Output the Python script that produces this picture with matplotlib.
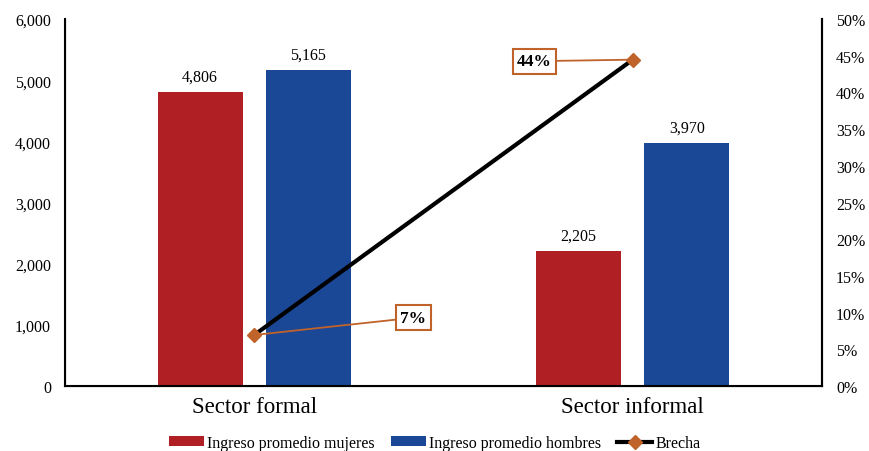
import numpy as np
import matplotlib
matplotlib.use('Agg')
import matplotlib.pyplot as plt
from matplotlib.ticker import FuncFormatter, PercentFormatter

categories = ['Sector formal', 'Sector informal']
mujeres = [4806, 2205]
hombres = [5165, 3970]
brecha = [0.0695, 0.4446]
brecha_labels = ['7%', '44%']

plt.rcParams['font.family'] = ['Liberation Serif', 'DejaVu Serif']

red = '#B01F24'
blue = '#1A4796'
orange = '#C0632A'

fig = plt.figure(figsize=(8.69, 4.52), dpi=100)
ax = fig.add_axes([65/869, 1-387/452, 757/869, 367/452])
x = np.arange(len(categories))
w = 0.225
b1 = ax.bar(x - 0.143, mujeres, w, color=red, label='Ingreso promedio mujeres')
b2 = ax.bar(x + 0.143, hombres, w, color=blue, label='Ingreso promedio hombres')
for bars in (b1, b2):
    for r in bars:
        ax.text(r.get_x() + r.get_width()/2, r.get_height() + 120, f'{int(r.get_height()):,}',
                ha='center', va='bottom', fontsize=11.5)

ax.set_xlim(-0.5, 1.5)
ax.set_ylim(0, 6000)
ax.set_yticks(range(0, 6001, 1000))
ax.yaxis.set_major_formatter(FuncFormatter(lambda v, p: f'{int(v):,}'))
ax.set_xticks(x)
ax.set_xticklabels(categories, fontsize=16.5)
ax.tick_params(axis='y', length=0, labelsize=11.5, pad=10)
ax.tick_params(axis='x', length=0, pad=7)
ax.spines['top'].set_visible(False)
for s in ('left', 'bottom', 'right'):
    ax.spines[s].set_linewidth(1.5)

ax2 = ax.twinx()
ax2.set_ylim(0, 0.5)
ax2.set_yticks(np.arange(0, 0.51, 0.05))
ax2.yaxis.set_major_formatter(PercentFormatter(1.0, decimals=0))
ax2.tick_params(axis='y', length=0, labelsize=11.5, pad=10)
ax2.spines['top'].set_visible(False)
ax2.spines['right'].set_linewidth(1.5)
ln, = ax2.plot(x, brecha, color='black', lw=3, marker='D', markersize=7,
               markerfacecolor=orange, markeredgecolor=orange, label='Brecha')

# data labels with leader lines
label_pos = [(0.42, 0.093), (-0.26, 0.4425)]
for i in range(len(x)):
    lx, ly = label_pos[i]
    ax2.annotate(brecha_labels[i], xy=(x[i], brecha[i]), xytext=(x[i] + lx, ly),
                 ha='center', va='center', fontsize=12.5, fontweight='bold',
                 bbox=dict(boxstyle='square,pad=0.25', fc='white', ec=orange, lw=1.5),
                 arrowprops=dict(arrowstyle='-', color=orange, lw=1.3, shrinkA=0, shrinkB=0))

handles = [b1, b2, ln]
fig.legend(handles, [h.get_label() for h in handles], loc='center', ncol=3,
           bbox_to_anchor=(0.5, 1 - 444/452), frameon=False, fontsize=11.5,
           handlelength=2.2, handleheight=0.6, handletextpad=0.2, columnspacing=1.0)

fig.savefig('out.png', dpi=100)
